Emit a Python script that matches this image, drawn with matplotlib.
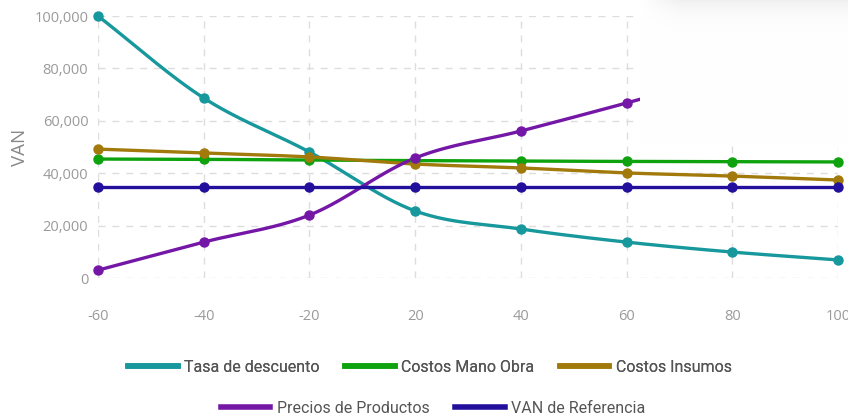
import numpy as np
import matplotlib
matplotlib.use("Agg")
import matplotlib.pyplot as plt
from matplotlib.lines import Line2D

# categorias del eje x (variacion %)
categorias = ["-60", "-40", "-20", "20", "40", "60", "80", "100"]

tasa_descuento = [100000, 68700, 48100, 25600, 18700, 13700, 9900, 6900]
costos_mano_obra = [45400, 45300, 45000, 44800, 44600, 44500, 44400, 44300]
costos_insumos = [49200, 47700, 46200, 43500, 42000, 40100, 38900, 37400]
precios_productos = [3000, 13700, 24000, 45800, 56100, 66800, 78000, 89000]
van_referencia = [34700] * 8

nombres = ["Tasa de descuento", "Costos Mano Obra", "Costos Insumos",
           "Precios de Productos", "VAN de Referencia"]
colores = ["#17989c", "#0ea30e", "#a27a0b", "#7417a6", "#22109c"]
series = [tasa_descuento, costos_mano_obra, costos_insumos,
          precios_productos, van_referencia]


def spline(y, n=30, t=0.5):
    # curva suave tipo cardinal entre los puntos
    y = np.asarray(y, float)
    x = np.arange(len(y), dtype=float)
    xs, ys = [], []
    for i in range(len(y) - 1):
        y0 = y[i - 1] if i > 0 else y[i]
        y3 = y[i + 2] if i + 2 < len(y) else y[i + 1]
        m1 = t * (y[i + 1] - y0) if i > 0 else (y[i + 1] - y[i])
        m2 = t * (y3 - y[i]) if i + 2 < len(y) else (y[i + 1] - y[i])
        s = np.linspace(0, 1, n)
        h00 = 2 * s**3 - 3 * s**2 + 1
        h10 = s**3 - 2 * s**2 + s
        h01 = -2 * s**3 + 3 * s**2
        h11 = s**3 - s**2
        xs.append(x[i] + s)
        ys.append(h00 * y[i] + h10 * m1 + h01 * y[i + 1] + h11 * m2)
    return np.concatenate(xs), np.concatenate(ys)


fig = plt.figure(figsize=(8.48, 4.15), dpi=100)
ax = fig.add_axes([98 / 848, 137 / 415, 740 / 848, 262 / 415])

x = np.arange(len(categorias))
for nombre, col, vals in zip(nombres, colores, series):
    sx, sy = spline(vals)
    ax.plot(sx, sy, color=col, lw=2.4, clip_on=False, zorder=3)
    ax.plot(x, vals, "o", color=col, ms=6.5, clip_on=False, zorder=4)

ax.set_xlim(0, 7)
ax.set_ylim(0, 100000)
ax.set_xticks(x)
ax.set_xticklabels(categorias)
ax.set_yticks(np.arange(0, 100001, 20000))
ax.set_yticklabels(["{:,}".format(v) for v in range(0, 100001, 20000)])
for s in ax.spines.values():
    s.set_visible(False)
ax.grid(True, color="#dddddd", ls=(0, (5, 5)), lw=1)
ax.set_axisbelow(True)
ax.tick_params(length=0, labelsize=10.5, labelcolor="#9a9a9a", pad=7)
ax.tick_params(axis="x", pad=22)
for lab in ax.get_xticklabels() + ax.get_yticklabels():
    lab.set_family("Open Sans")
ax.set_ylabel("VAN", fontsize=13.5, color="#888888", family="Open Sans", labelpad=4)

# recuadro blanco que tapa la esquina superior derecha
caja = fig.add_axes([640 / 848, (415 - 145) / 415, 208 / 848, 145 / 415], zorder=10)
filas = np.linspace(0, 1, 145)[:, None]
cols = np.linspace(0, 1, 208)[None, :]
sombra = np.exp(-filas * 145 / 12) * np.clip(cols * 208 / 40, 0, 1)
fondo = 1 - 0.06 * sombra
caja.imshow(np.dstack([fondo] * 3), aspect="auto", extent=[0, 1, 0, 1])
caja.axis("off")

manejadores = [Line2D([], [], color=c, lw=4) for c in colores]
opts = dict(loc="center", frameon=False, handlelength=3.1, columnspacing=1.6,
            handletextpad=0.4, prop={"family": "Roboto", "size": 11.5})
leg1 = fig.legend(manejadores[:3], nombres[:3], ncol=3,
                  bbox_to_anchor=(0.5 + 6 / 848, (415 - 367) / 415), **opts)
leg2 = fig.legend(manejadores[3:], nombres[3:], ncol=2,
                  bbox_to_anchor=(0.5 + 9 / 848, (415 - 408) / 415), **opts)
fig.add_artist(leg1)
for leg in (leg1, leg2):
    for t in leg.get_texts():
        t.set_color("#555555")

fig.savefig("out.png", dpi=100)
